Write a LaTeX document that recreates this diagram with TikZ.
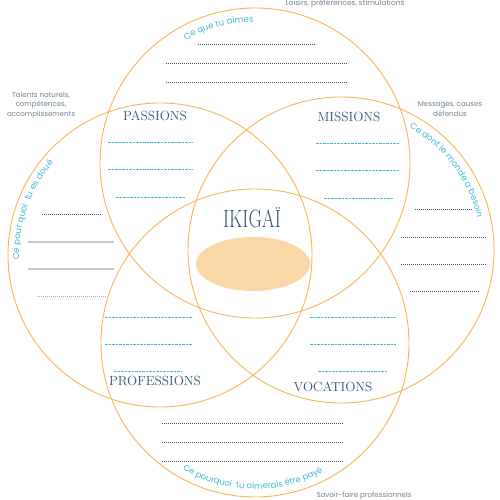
\documentclass[tikz,border=0pt]{standalone}
\usepackage{fontspec}
\newfontfamily\labfont{Poppins}
\usetikzlibrary{decorations.text}
\definecolor{orangeC}{HTML}{F8B452}
\definecolor{cyanT}{HTML}{3DBAD0}
\definecolor{tealT}{HTML}{2E5872}
\definecolor{grayT}{HTML}{6E8291}
\definecolor{peach}{HTML}{FBD6A9}
\definecolor{solidG}{HTML}{BCC9D1}
\definecolor{lightDot}{HTML}{9FB3BF}
\tikzset{
  ring/.style={draw=orangeC, line width=0.9pt},
  dashline/.style={draw=cyanT, line width=0.8pt, dash pattern=on 2.5pt off 1pt},
  dotline/.style={draw=tealT, line width=0.9pt, dash pattern=on 1pt off 1pt},
  graybar/.style={draw=solidG, line width=2pt},
  title/.style={text=tealT, font=\fontsize{13.3}{15}\selectfont, inner sep=0pt},
  note/.style={text=grayT, font=\labfont\fontsize{7.1}{9.6}\selectfont, align=center, inner sep=0pt},
}
\begin{document}
\begin{tikzpicture}[x=1pt,y=1pt]
\useasboundingbox (0,0) rectangle (500,500);
% circles
\draw[ring] (255,337) circle (155);
\draw[ring] (160,245) circle (152);
\draw[ring] (341,250) circle (153);
\draw[ring] (255,157) circle (154);
% centre
\fill[peach] (253,236) ellipse (57 and 27);
\node[title, font=\fontsize{25}{28}\selectfont] (ikigai) at (252,282) {\scalebox{0.74}[1]{IKIGAÏ}};
\node[title] (passions) at (155,384) {PASSIONS};
\node[title] (missions) at (349,383) {MISSIONS};
\node[title] (professions) at (155,119) {PROFESSIONS};
\node[title] (vocations) at (333,113) {VOCATIONS};
% curved texts
\path[decorate, decoration={text along path, text align=center, text color=cyanT,
  text={|\labfont\fontsize{8.6}{10}\selectfont|Ce que tu aimes}}]
  (255,337) ++(140:141) arc (140:70:141);
\path[decorate, decoration={text along path, text align=center, text color=cyanT,
  text={|\labfont\fontsize{8.6}{10}\selectfont|Ce dont le monde a besoin}}]
  (341,250) ++(80:140) arc (80:-6:140);
\path[decorate, decoration={text along path, text align=center, text color=cyanT,
  text={|\labfont\fontsize{8.6}{10}\selectfont|Ce pour quoi {} tu es doué}}]
  (160,245) ++(205:141) arc (205:116:141);
\path[decorate, decoration={text along path, text align=center, text color=cyanT,
  text={|\labfont\fontsize{8.4}{10}\selectfont|Ce pourquoi {} tu aimerais être payé}}]
  (255,157) ++(225:146) arc (225:313:146);
% notes
\node[note, font=\labfont\fontsize{7.4}{9.6}\selectfont] (n1) at (345,496) {Loisirs, préférences, stimulations};
\node[note] (n2) at (41,395) {Talents naturels,\\compétences,\\accomplissements};
\node[note] (n3) at (450,391) {Messages, causes\\défendus};
\node[note] (n4) at (364,4) {Savoir-faire professionnels};
% top dotted lines
\draw[dotline] (198,456) -- (315,456);
\draw[dotline] (166,437) -- (347,437);
\draw[dotline] (166,418) -- (347,418);
% left lines
\draw[dotline] (42,286) -- (101,286);
\draw[graybar] (28,258) -- (114,258);
\draw[graybar] (28,231) -- (114,231);
\draw[dotline, draw=lightDot] (37,204) -- (106,204);
% right lines
\draw[dotline] (415,291) -- (473,291);
\draw[dotline] (401,263) -- (487,263);
\draw[dotline] (401,236) -- (487,236);
\draw[dotline] (410,209) -- (479,209);
% bottom lines
\draw[dotline] (162,77) -- (343,77);
\draw[dotline] (162,58) -- (343,58);
\draw[dotline] (162,39) -- (343,39);
% dashed lines
\draw[dashline] (108,358) -- (193,358);
\draw[dashline] (108,331) -- (193,331);
\draw[dashline] (116,303) -- (186,303);
\draw[dashline] (316,357) -- (400,357);
\draw[dashline] (316,330) -- (400,330);
\draw[dashline] (324,302) -- (393,302);
\draw[dashline] (105,183) -- (192,183);
\draw[dashline] (105,156) -- (192,156);
\draw[dashline] (114,129) -- (182,129);
\draw[dashline] (310,183) -- (396,183);
\draw[dashline] (310,156) -- (396,156);
\draw[dashline] (318,129) -- (388,129);
\end{tikzpicture}
\end{document}
